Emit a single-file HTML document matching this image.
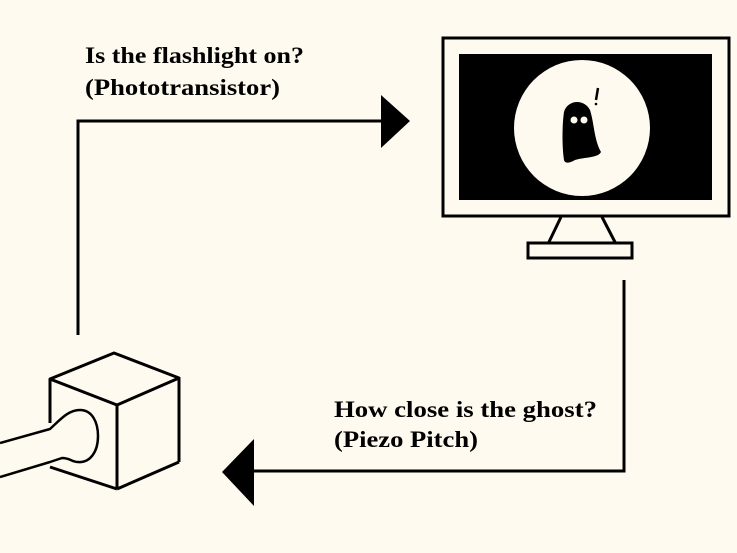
<!DOCTYPE html>
<html><head><style>
body{margin:0;background:#fffaf0;}
svg{display:block}
text{font-family:"Liberation Serif",serif;font-weight:bold;font-size:23px;fill:#000}
</style></head><body>
<svg width="737" height="553" viewBox="0 0 737 553">
<rect width="737" height="553" fill="#fffaf0"/>
<text x="85" y="63" textLength="219" lengthAdjust="spacingAndGlyphs">Is the flashlight on?</text>
<text x="85" y="95" textLength="195" lengthAdjust="spacingAndGlyphs">(Phototransistor)</text>
<text x="334" y="417" textLength="263" lengthAdjust="spacingAndGlyphs">How close is the ghost?</text>
<text x="334" y="447" textLength="144" lengthAdjust="spacingAndGlyphs">(Piezo Pitch)</text>
<polyline points="78,335 78,121 385,121" fill="none" stroke="#000" stroke-width="3"/>
<polygon points="381,95 410,121 381,148" fill="#000"/>
<polyline points="624,280 624,471 250,471" fill="none" stroke="#000" stroke-width="3"/>
<polygon points="254,439 222,472 254,506" fill="#000"/>
<rect x="443" y="38" width="286" height="178" fill="#fffaf0" stroke="#000" stroke-width="3"/>
<rect x="459" y="54" width="253" height="146" fill="#000"/>
<circle cx="582" cy="128" r="68" fill="#fffaf0"/>
<path d="M564,160 C562,148 562,125 564,112 C567,100 584,98 590,110 C594,122 594,140 601,152 C598,158 585,157 575,160 C570,163 565,164 564,160 Z" fill="#000"/>
<circle cx="574" cy="120" r="3.5" fill="#fffaf0"/><circle cx="584" cy="120" r="3.5" fill="#fffaf0"/>
<line x1="598" y1="88" x2="596" y2="100" stroke="#000" stroke-width="2.5"/><circle cx="596" cy="104" r="1.3"/>
<line x1="561" y1="217" x2="548" y2="244" stroke="#000" stroke-width="3"/>
<line x1="602" y1="217" x2="616" y2="244" stroke="#000" stroke-width="3"/>
<rect x="528" y="243" width="104" height="15" fill="#fffaf0" stroke="#000" stroke-width="3"/>
<g fill="none" stroke="#000" stroke-width="3" stroke-linejoin="round">
<polygon points="50,379 114,353 179,378 117,405"/>
<line x1="117" y1="405" x2="117" y2="489"/>
<line x1="179" y1="378" x2="179" y2="462"/>
<polyline points="117,489 179,462"/>
<polyline points="50,379 50,423"/>
<polyline points="50,467 117,489"/>
<path d="M0,443 L50,429 C60,420 68,410 80,410 C92,410 98,422 98,436 C98,452 90,463 78,462 C72,462 70,458 62,458 L50,462 L0,477" stroke-width="2.5" fill="#fffaf0"/>
</g>
</svg>
</body></html>
